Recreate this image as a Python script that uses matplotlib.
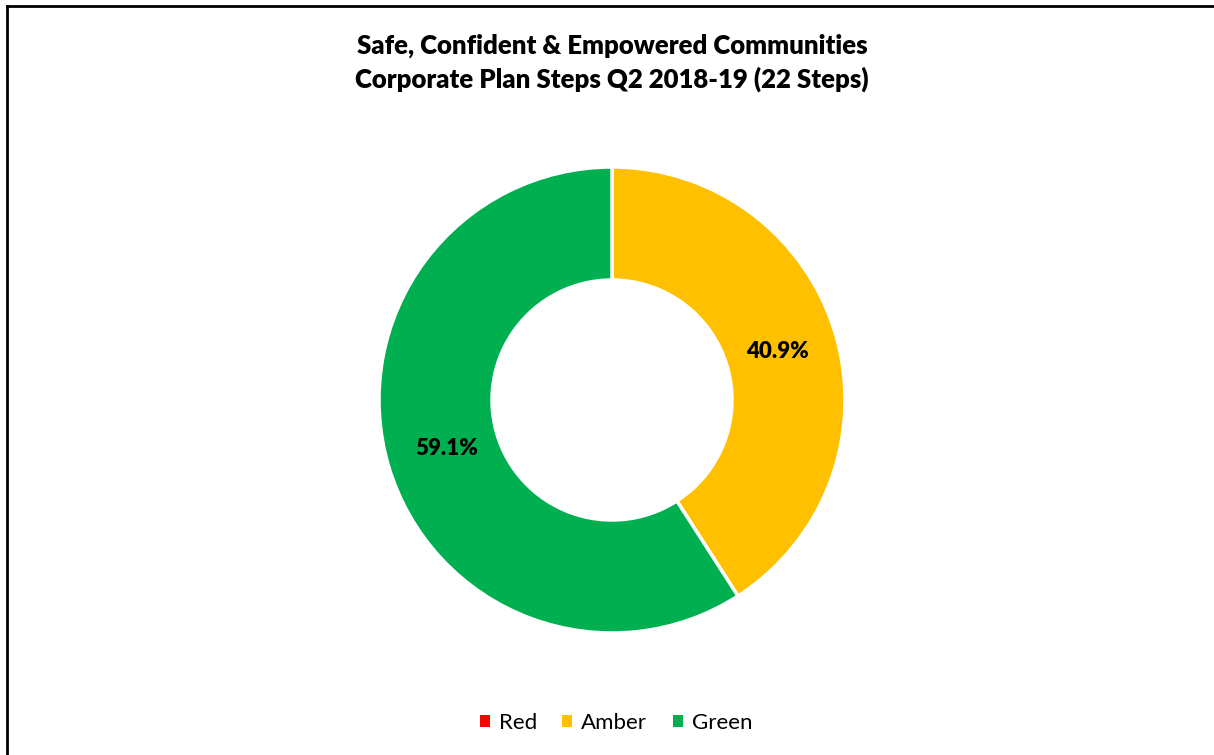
import matplotlib
matplotlib.use("Agg")
import matplotlib.pyplot as plt
from matplotlib.lines import Line2D
from matplotlib.patches import Patch

labels = ["Red", "Amber", "Green"]
steps = [0, 9, 13]
colors = ["#FF0000", "#FFC000", "#00B050"]

plt.rcParams["font.family"] = ["Lato", "DejaVu Sans"]

W, H = 1214, 755
fig = plt.figure(figsize=(W / 100, H / 100), dpi=100)

# donut axes, centre ~ (612, 400) px, radius ~233 px
cx, cy, r = 612, 400, 233
ax = fig.add_axes([(cx - r) / W, (H - cy - r) / H, 2 * r / W, 2 * r / H])


def fmt(p):
    return f"{p:.1f}%" if p > 0 else ""


wedges, texts, autotexts = ax.pie(
    steps,
    colors=colors,
    startangle=90,
    counterclock=False,
    radius=1,
    autopct=fmt,
    pctdistance=0.74,
    wedgeprops=dict(width=0.485, edgecolor="white", linewidth=2.5),
    textprops=dict(fontsize=16, fontweight="heavy", color="black"),
)
ax.set_xlim(-1, 1)
ax.set_ylim(-1, 1)
ax.set_aspect("equal")
ax.axis("off")

fig.text(0.504, 1 - 46 / H, "Safe, Confident & Empowered Communities",
         ha="center", va="center", fontsize=18.5, fontweight="heavy")
fig.text(0.504, 1 - 79 / H, "Corporate Plan Steps Q2 2018-19 (22 Steps)",
         ha="center", va="center", fontsize=18.5, fontweight="heavy")

handles = [Patch(facecolor=c, edgecolor="none") for c in colors]
fig.legend(handles, labels, loc="center", bbox_to_anchor=(616 / W, 1 - 723 / H),
           ncol=3, frameon=False, fontsize=16, handlelength=0.45, handleheight=0.45,
           handletextpad=0.4, columnspacing=1.15)

# border on top and left edges
fig.add_artist(Line2D([7 / W, 1], [1 - 6 / H, 1 - 6 / H], color="black", lw=2))
fig.add_artist(Line2D([7 / W, 7 / W], [0, 1 - 6 / H], color="black", lw=2))

fig.savefig("out.png", dpi=100)
